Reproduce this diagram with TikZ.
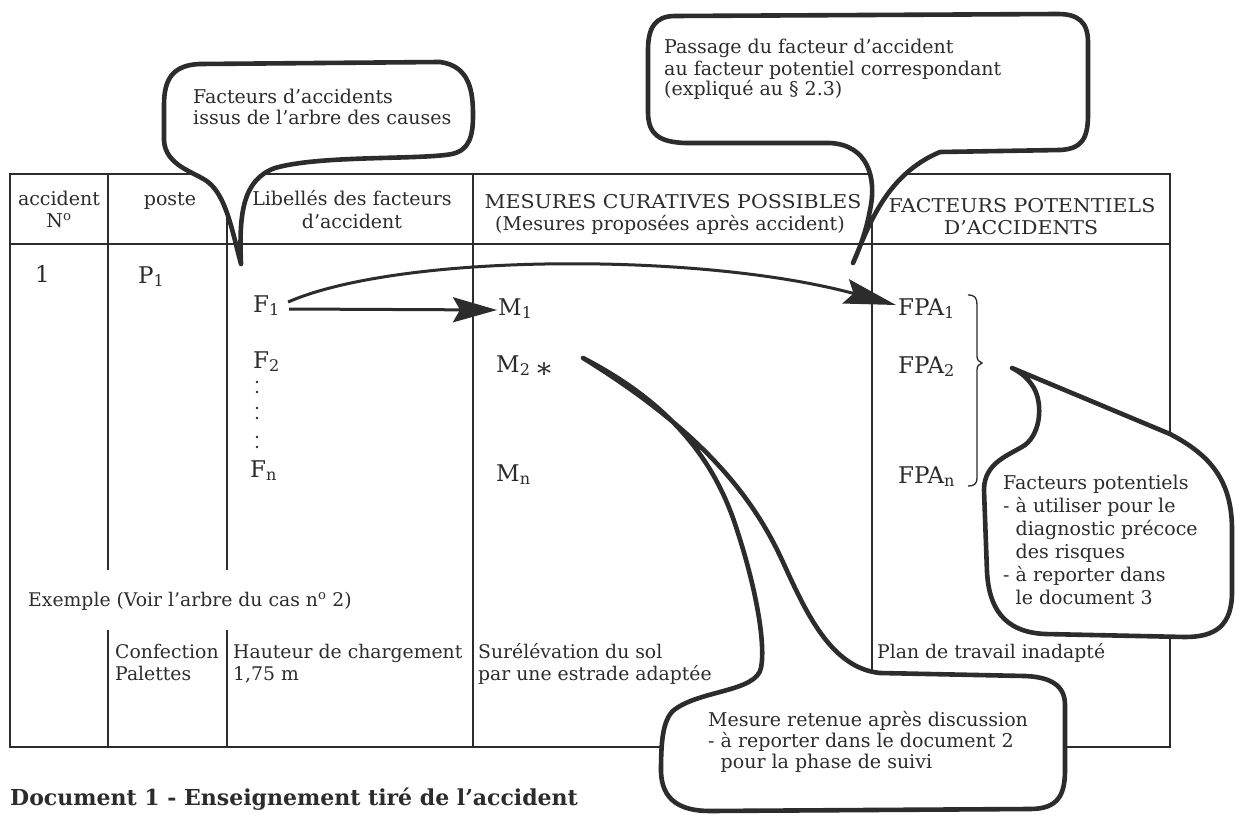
\documentclass[tikz,border=0pt]{standalone}
\usepackage{fontspec}
\setmainfont{DejaVu Serif}
\newfontfamily\capsfont[FakeStretch=1.08]{DejaVu Serif}
\usetikzlibrary{arrows.meta}
\definecolor{ink}{RGB}{44,44,44}
\newcommand{\Lines}[2]{\vtop{\baselineskip=#1\relax\lineskiplimit=-100pt\lineskip=0pt #2}}
\begin{document}
\begin{tikzpicture}[x=1pt,y=-1pt,
  every node/.style={inner sep=0pt, text=ink},
  tline/.style={draw=ink, line width=2.3pt},
  bubble/.style={draw=ink, fill=white, line width=4.6pt, line join=round},
  arrA/.style={draw=ink, line width=3pt, -{Stealth[length=44pt,width=25pt,inset=7pt]}},
  arrB/.style={draw=ink, line width=3pt, -{Stealth[length=52pt,width=25pt,inset=8pt]}},
  txt/.style={font=\fontsize{19}{22}\selectfont},
  captxt/.style={font=\capsfont\fontsize{19}{22}\selectfont},
  extxt/.style={font=\fontsize{18.8}{22}\selectfont},
  big/.style={font=\fontsize{23}{26}\selectfont},
  capt/.style={font=\bfseries\fontsize{22}{26}\selectfont},
  dotp/.style={fill=ink},
  bracestyle/.style={draw=ink, line width=1.3pt},
]
\fill[white] (0,0) rectangle (1237,816);
\useasboundingbox (0,0) rectangle (1237,816);

% ---------- table ----------
\draw[tline] (10,174) rectangle (1170,747);
\draw[tline] (10,244) -- (1170,244);
\draw[tline] (108,174) -- (108,570) (108,630) -- (108,747);
\draw[tline] (227,174) -- (227,570) (227,630) -- (227,747);
\draw[tline] (473,174) -- (473,747);
\draw[tline] (872,174) -- (872,747);

% header
\node[txt, anchor=base] (hAcc) at (59,205) {accident};
\node[txt, anchor=base] (hNo) at (59,227) {N\textsuperscript{o}};
\node[txt, anchor=base] (hPoste) at (170,205) {poste};
\node[txt, anchor=base] (hLibA) at (352,205) {Libellés des facteurs};
\node[txt, anchor=base] (hLibB) at (352,228) {d’accident};
\node[captxt, anchor=base] (hMesA) at (673,208) {MESURES CURATIVES POSSIBLES};
\node[txt, anchor=base] (hMesB) at (670,230) {(Mesures proposées après accident)};
\node[captxt, anchor=base] (hFacA) at (1022,212) {FACTEURS POTENTIELS};
\node[captxt, anchor=base] (hFacB) at (1021,234) {D’ACCIDENTS};

% row
\node[big, anchor=base west] (one) at (35,282) {1};
\node[big, anchor=base west] (P1) at (138,283) {P\textsubscript{1}};
\node[big, anchor=base west] (F1) at (253,312) {F\textsubscript{1}};
\node[big, anchor=base west] (F2) at (253,368) {F\textsubscript{2}};
\node[big, anchor=base west] (Fn) at (250,477) {F\textsubscript{n}};
\node[big, anchor=base west] (M1) at (498,315) {M\textsubscript{1}};
\node[big, anchor=base west] (M2) at (496,372) {M\textsubscript{2}};
\node[anchor=center, font=\fontsize{28}{28}\selectfont] (ast) at (544,373) {*};
\node[big, anchor=base west] (Mn) at (496,481) {M\textsubscript{n}};
\node[big, anchor=base west] (FPA1) at (898,315) {FPA\textsubscript{1}};
\node[big, anchor=base west] (FPA2) at (898,373) {FPA\textsubscript{2}};
\node[big, anchor=base west] (FPAn) at (898,483) {FPA\textsubscript{n}};

% vertical dots
\foreach \yy in {382,392,408,418,437,447} \fill[dotp] (257,\yy) circle (1.4);

% brace
\draw[bracestyle] (968,295) .. controls (975,295) and (977,298) .. (977,305) -- (977,356)
  .. controls (977,360) and (979,362) .. (982,363) .. controls (979,364) and (977,366) .. (977,370)
  -- (977,478) .. controls (977,484) and (974,486) .. (968,486);

% example
\node[extxt, anchor=base west] (exm) at (28,606) {Exemple (Voir l’arbre du cas n\textsuperscript{o} 2)};
\node[extxt, anchor=base west] (confA) at (115,658) {Confection};
\node[extxt, anchor=base west] (confB) at (115,680) {Palettes};
\node[extxt, anchor=base west] (hautA) at (233,658) {Hauteur de chargement};
\node[extxt, anchor=base west] (hautB) at (233,680) {1,75 m};
\node[extxt, anchor=base west] (surA) at (478,658) {Surélévation du sol};
\node[extxt, anchor=base west] (surB) at (478,680) {par une estrade adaptée};
\node[extxt, anchor=base west] (plan) at (877,658) {Plan de travail inadapté};

\node[capt, anchor=base west] (doc) at (10,805) {Document 1 - Enseignement tiré de l’accident};

% arrows
\draw[arrA] ([shift={(9,-3)}]F1.base east) -- ([shift={(-1,-5)}]M1.base west);
\draw[arrB] ([shift={(8,-10)}]F1.base east) .. controls +(112,-49) and +(-195,-53) .. ([shift={(-2,-10)}]FPA1.base west);

% ---------- bubbles ----------
\draw[bubble] (241,264)
  .. controls (239,215) and (242,180) .. (275,168)
  .. controls (320,155) and (420,160) .. (452,154)
  .. controls (470,150) and (473,135) .. (473,115)
  .. controls (473,92) and (470,66) .. (440,62)
  -- (200,64)
  .. controls (172,65) and (164,80) .. (164,105)
  -- (164,140)
  .. controls (165,166) and (195,172) .. (208,182)
  .. controls (226,196) and (232,230) .. (241,264) -- cycle;
\node[txt, anchor=base west] (bubA) at (193,103)
  {\Lines{21pt}{\hbox{Facteurs d’accidents}\hbox{issus de l’arbre des causes}}};

\draw[bubble] (853,263)
  .. controls (868,228) and (885,175) .. (940,152)
  -- (1060,150)
  .. controls (1082,149) and (1088,138) .. (1088,115)
  -- (1088,42)
  .. controls (1088,22) and (1078,14) .. (1058,14)
  -- (675,16)
  .. controls (655,16) and (648,28) .. (648,50)
  -- (648,112)
  .. controls (648,135) and (660,142) .. (685,143)
  -- (830,143)
  .. controls (868,145) and (877,178) .. (870,210)
  .. controls (866,232) and (859,250) .. (853,263) -- cycle;
\node[txt, anchor=base west] (bubB) at (664,54)
  {\Lines{21pt}{\hbox{Passage du facteur d’accident}\hbox{au facteur potentiel correspondant}\hbox{(expliqué au § 2.3)}}};

\draw[bubble] (1012,368)
  -- (1170,434)
  .. controls (1210,455) and (1232,480) .. (1232,530)
  -- (1232,592)
  .. controls (1232,626) and (1215,637) .. (1185,637)
  -- (1045,634)
  .. controls (1003,632) and (989,607) .. (987,572)
  -- (984,490)
  .. controls (984,462) and (1010,455) .. (1025,445)
  .. controls (1042,432) and (1043,400) .. (1032,385)
  .. controls (1026,376) and (1018,371) .. (1012,368) -- cycle;
\node[txt, anchor=base west] (bubC) at (1003,489)
  {\Lines{23pt}{\hbox{Facteurs potentiels}\hbox{- à utiliser pour le}\hbox{\phantom{- }diagnostic précoce}\hbox{\phantom{- }des risques}\hbox{- à reporter dans}\hbox{\phantom{- }le document 3}}};

\draw[bubble] (583,358)
  .. controls (660,398) and (712,450) .. (737,530)
  .. controls (755,585) and (766,642) .. (761,668)
  .. controls (756,692) and (700,690) .. (674,710)
  .. controls (662,720) and (661,745) .. (661,772)
  .. controls (662,800) and (680,811) .. (710,811)
  -- (1030,809)
  .. controls (1058,809) and (1065,795) .. (1065,770)
  -- (1065,705)
  .. controls (1065,685) and (1050,677) .. (1025,676)
  -- (880,673)
  .. controls (830,668) and (805,610) .. (782,560)
  .. controls (752,495) and (700,430) .. (583,358) -- cycle;
\node[txt, anchor=base west] (bubD) at (708,726)
  {\Lines{21pt}{\hbox{Mesure retenue après discussion}\hbox{- à reporter dans le document 2}\hbox{\phantom{- }pour la phase de suivi}}};
\end{tikzpicture}
\end{document}
